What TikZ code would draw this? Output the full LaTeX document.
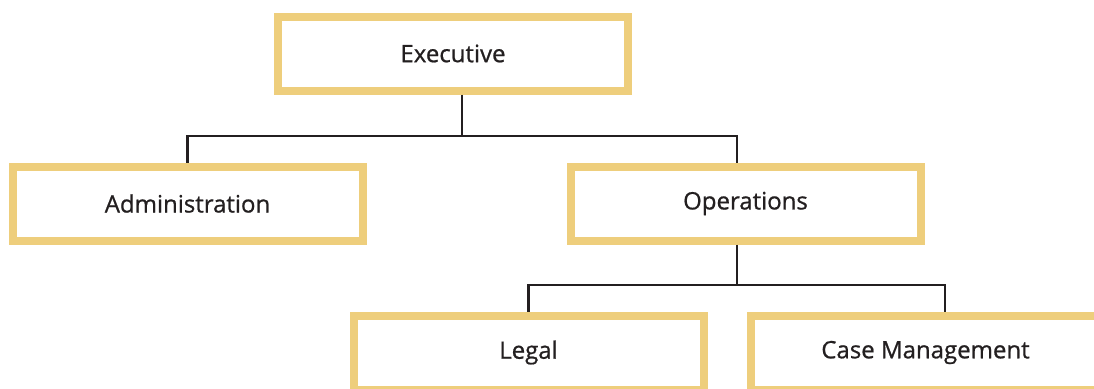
\documentclass[tikz,border=0pt]{standalone}
\usepackage{fontspec}
\newfontfamily\unitfont{Open Sans}[FakeBold=0.8]
\usetikzlibrary{positioning}
\definecolor{gold1}{RGB}{238,206,124}
\definecolor{ink1}{RGB}{35,31,32}

\begin{document}
\begin{tikzpicture}[x=1pt,y=1pt]
    \tikzstyle{unit} = [draw=gold1,line width=8pt,fill=white,minimum width=350pt,minimum height=74pt,
                        text=ink1,font=\unitfont\fontsize{24}{28}\selectfont,yshift=-1.5pt]
    \tikzstyle{link} = [draw=ink1,line width=2.2pt]
    \useasboundingbox (0,0) rectangle (1094,-388);

    \node[unit] (exec)   at (453,-52)    {Executive};
    \node[unit] (admin)  at (187.5,-202) {Administration};
    \node[unit] (ops)    at (745.5,-202) {Operations};
    \node[unit] (legal)  at (528.5,-351) {Legal};
    \node[unit] (casem)  at (925.5,-351) {Case Management};

    \coordinate (bus1) at (461.7,-136);
    \coordinate (bus2) at (736.7,-285);

    \path[link] ([xshift=8.7pt]exec.south)  -- (bus1)
                (admin.north) |- (bus1) -| ([xshift=-8.8pt]ops.north)
                ([xshift=-8.8pt]ops.south)  -- (bus2)
                (legal.north) |- (bus2) -| ([xshift=19.5pt]casem.north);

\end{tikzpicture}
\end{document}
